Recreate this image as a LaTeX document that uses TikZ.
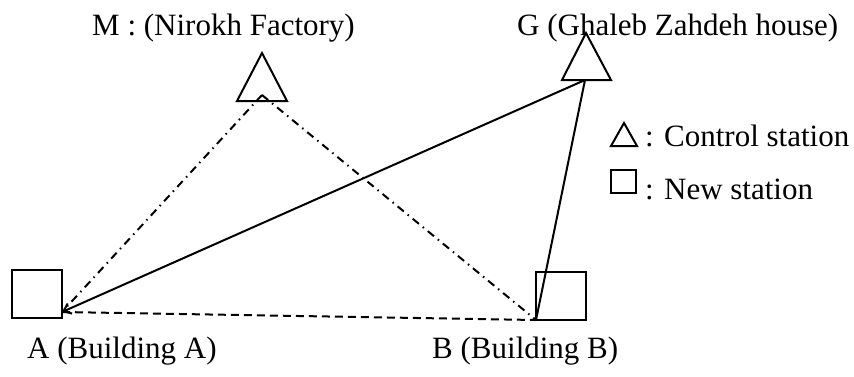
\documentclass[tikz,border=0pt]{standalone}
\usepackage{fontspec}
\setmainfont{Liberation Serif}
\usetikzlibrary{arrows.meta}
\begin{document}
\begin{tikzpicture}[x=1pt,y=-1pt,
  lbl/.style={anchor=base west,inner sep=0pt,font=\fontsize{31}{36}\selectfont},
  shp/.style={draw=black,line width=2pt,line join=miter},
  conn/.style={draw=black,line width=2pt},
  dashdot/.style={conn,dash pattern=on 8pt off 5pt on 1.5pt off 5pt},
  dashline/.style={conn,dash pattern=on 8pt off 5pt}]
\useasboundingbox (0,0) rectangle (854,376);
% station symbols
\draw[shp] (237,101) -- (262,53) -- (287,101) -- cycle;
\draw[shp] (562,80) -- (586,33) -- (611,80) -- cycle;
\draw[shp] (12,270) rectangle (62,318);
\draw[shp] (536,272) rectangle (586,320);
% connection points
\coordinate (M) at (262,95);
\coordinate (G) at (585,80);
\coordinate (A) at (62,312);
\coordinate (B) at (536,320);
% connectors
\draw[dashdot] (M) -- (A);
\draw[dashdot] (M) -- (B);
\draw[dashline] (A) -- (B);
\draw[conn,-{Straight Barb[length=7pt,width=11pt,line width=2pt]}] (G) -- (A);
\draw[conn] (G) -- (B);
% labels
\node[lbl] (mlab) at (92,35) {M : (Nirokh Factory)};
\node[lbl] (glab) at (517,35) {G (Ghaleb Zahdeh house)};
\node[lbl] (alab) at (27,358) {A (Building A)};
\node[lbl] (blab) at (432,358) {B (Building B)};
% legend
\draw[shp] (611,146) -- (624,123) -- (637,146) -- cycle;
\draw[shp] (611,170) rectangle (636,193);
\node[lbl] (leg1) at (645,146) {: Control station};
\node[lbl] (leg2) at (645,199) {: New station};
\end{tikzpicture}
\end{document}
